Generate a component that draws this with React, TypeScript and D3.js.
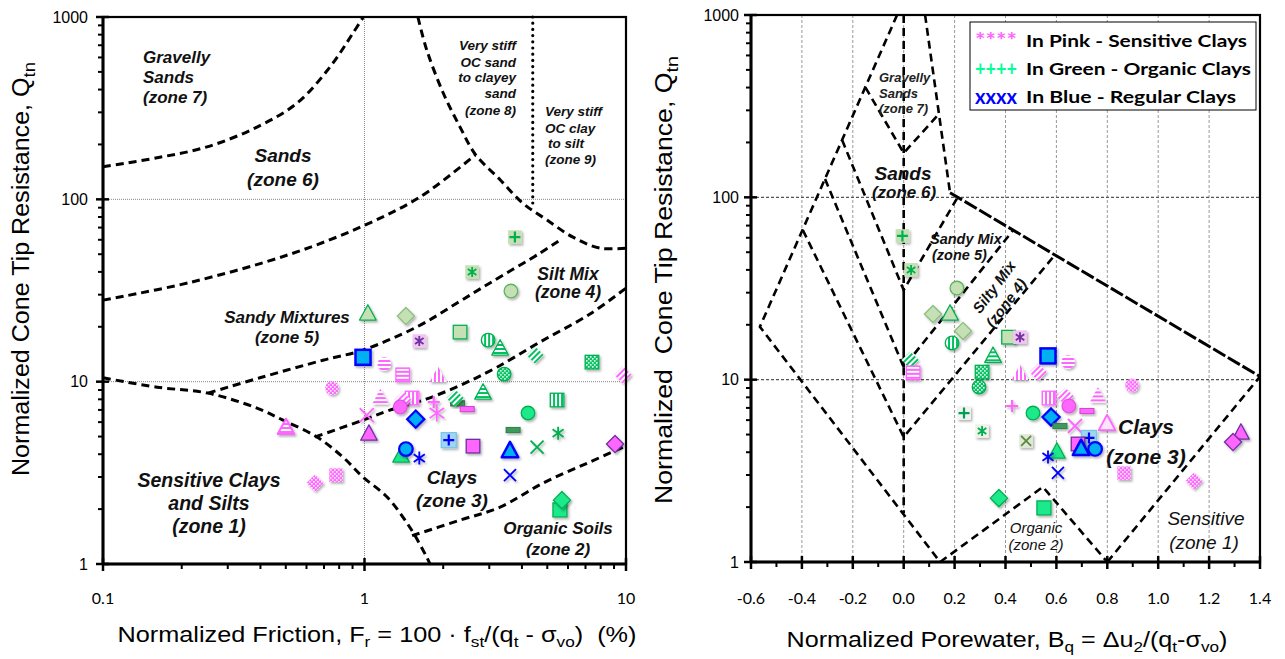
import React from 'react';
import * as d3 from 'd3';

// ---------- axis ticks ----------
const frTicks = [0.1, 1, 10];
const frTickLabels = ['0.1', '1', '10'];
const qTicks = [1, 10, 100, 1000];
const qTickLabels = ['1', '10', '100', '1000'];
const bqTicks = [-0.6, -0.4, -0.2, 0.0, 0.2, 0.4, 0.6, 0.8, 1.0, 1.2, 1.4];
const bqTickLabels = ['-0.6', '-0.4', '-0.2', '0.0', '0.2', '0.4', '0.6', '0.8', '1.0', '1.2', '1.4'];

// ---------- left chart zone boundaries (Fr %, Qtn) ----------
const zone7Line = [[0.1, 151], [0.161, 169], [0.25, 194], [0.388, 249], [0.552, 337], [0.738, 532], [0.904, 817], [0.99, 1000]];
const zone6Line = [[0.1, 28], [0.215, 35], [0.519, 50], [0.977, 71], [1.63, 103], [2.65, 175]];
const zone8Arc = [[1.6, 1000], [1.73, 659], [2.0, 383], [2.32, 249], [2.65, 177], [3.3, 128], [4.04, 95], [4.99, 77], [6.27, 62], [7.96, 54], [10, 54]];
const zone9Line = [[4.4, 1000], [4.4, 92]];
const zone5Line = [[0.252, 8.65], [0.398, 10.5], [0.693, 13.1], [0.986, 14.9], [1.59, 20], [2.26, 27], [3.02, 34.8], [4.69, 50.7], [5.6, 59.8]];
const zone1Line = [[0.1, 10.5], [0.161, 9.33], [0.252, 8.65], [0.388, 7.16], [0.488, 6.15], [0.658, 4.97], [0.828, 3.85], [0.986, 3.0], [1.22, 2.33], [1.49, 1.59], [1.73, 1.09], [1.78, 1]];
const zone4Line = [[0.647, 4.97], [0.986, 6.15], [1.25, 6.98], [1.73, 8.04], [2.38, 9.7], [3.21, 12], [4.69, 16.5], [7.28, 23.5], [10, 32.6]];
const zone2Line = [[1.52, 1.43], [2.32, 1.74], [3.3, 2.05], [4.82, 2.78], [7.1, 3.57], [10, 4.44]];

// ---------- right chart zone boundaries (Bq, Qtn) ----------
const outerLine = [[-0.026, 1000], [-0.565, 19.5], [0.143, 1]];
const gravelLine = [[-0.15, 400], [0, 175], [0.135, 283]];
const sandRightLine = [[0.084, 1000], [0.182, 106]];
const upperLine = [[0.182, 106], [1.4, 10.4]];
const sandyMixLine = [[-0.242, 206], [0, 31], [0.21, 99]];
const siltyMixLine = [[-0.309, 126], [0, 11.7], [0.43, 66]];
const clayLine = [[-0.396, 66], [0, 4.85], [0.587, 47]];
const organicLine = [[0.143, 1], [0.547, 2.58], [0.8, 1]];
const sensitiveLine = [[0.8, 1], [1.4, 10.4]];
const bqZeroUpper = [[0, 1000], [0, 31]];
const bqZeroSolid = [[0, 31], [0, 11.7]];
const bqZeroLower = [[0, 11.7], [0, 1.85]];

// ---------- samples: left chart (Fr, Qtn, marker) ----------
const leftPoints: [number, number, string][] = [
  [3.76, 62.1, 'lgPlusSq'], [2.58, 39.9, 'lgStarSq'], [3.63, 31.4, 'lgCircle'],
  [1.03, 23.8, 'lgTriangle'], [1.44, 22.9, 'lgDiamond'], [1.62, 16.7, 'purpleStarSq'],
  [2.32, 18.7, 'lgSquare'], [2.97, 16.9, 'greenVCircle'], [3.30, 15.3, 'greenHTriangle'],
  [0.987, 13.6, 'blueSquare'], [1.19, 12.5, 'pinkHCircle'], [1.40, 10.9, 'pinkHSquare'],
  [1.91, 10.9, 'pinkVTriangle'], [3.42, 11.0, 'greenDotCircle'], [4.49, 14.0, 'greenDiagDiamond'],
  [7.41, 12.8, 'greenCheckSq'], [9.74, 10.9, 'pinkDiagDiamond'], [0.751, 9.22, 'pinkDotCircle'],
  [0.501, 5.64, 'pinkWaveTriangle'], [1.15, 8.23, 'pinkHTriangle'], [1.52, 8.13, 'pinkVSquare'],
  [1.40, 7.93, 'pinkDiagDiamond'], [1.37, 7.26, 'pinkCircle'], [1.84, 7.73, 'pinkPlus'],
  [1.89, 6.73, 'pinkStar'], [2.27, 7.6, 'greenDash'], [2.22, 8.13, 'greenDiagDiamond'],
  [2.47, 7.07, 'pinkDash'], [2.84, 8.77, 'greenHTriangle'], [5.45, 7.93, 'greenVSquare'],
  [1.02, 6.56, 'pinkX'], [1.57, 6.23, 'blueDiamond'], [1.04, 5.22, 'pinkTriangle'],
  [4.22, 6.73, 'greenCircle'], [3.70, 5.43, 'greenDash'], [5.50, 5.22, 'greenStar'],
  [4.57, 4.38, 'greenX'], [2.10, 4.78, 'bluePlusSq'], [2.60, 4.43, 'pinkSquare'],
  [3.60, 4.21, 'blueTriangle'], [1.38, 3.96, 'greenTriangle'], [1.44, 4.27, 'blueCircle'],
  [1.62, 3.81, 'blueStar'], [3.60, 3.07, 'blueX'], [9.08, 4.55, 'pinkDiamond'],
  [5.59, 1.98, 'greenSquare'], [5.69, 2.24, 'greenDiamond'], [0.647, 2.78, 'pinkCheckDiamond'],
  [0.778, 3.07, 'pinkCheckSq'],
];

// ---------- samples: right chart (Bq, Qtn, marker) ----------
const rightPoints: [number, number, string][] = [
  [-0.005, 61.4, 'lgPlusSq'], [0.029, 40, 'lgStarSq'], [0.209, 31.8, 'lgCircle'],
  [0.115, 22.9, 'lgDiamond'], [0.182, 23.2, 'lgTriangle'], [0.233, 18.5, 'lgDiamond'],
  [0.190, 15.9, 'greenVCircle'], [0.412, 17.1, 'lgSquare'], [0.457, 17.1, 'purpleStarSq'],
  [0.025, 12.8, 'greenDiagDiamond'], [0.037, 10.9, 'pinkHSquare'], [0.351, 13.6, 'greenHTriangle'],
  [0.308, 11.0, 'greenCheckSq'], [0.567, 13.5, 'blueSquare'], [0.646, 12.5, 'pinkHCircle'],
  [0.457, 10.9, 'pinkVTriangle'], [0.528, 11.0, 'pinkDiagDiamond'], [0.296, 9.12, 'greenDotCircle'],
  [0.897, 9.3, 'pinkDotCircle'], [0.571, 7.93, 'pinkVSquare'], [0.634, 8.1, 'pinkDiagDiamond'],
  [0.649, 7.17, 'pinkCircle'], [0.763, 8.2, 'pinkHTriangle'], [0.426, 7.17, 'pinkPlus'],
  [0.237, 6.56, 'greenPlusW'], [0.508, 6.56, 'greenCircle'], [0.579, 6.24, 'blueDiamond'],
  [0.720, 6.73, 'pinkDash'], [0.673, 5.57, 'pinkX'], [0.799, 5.78, 'pinkOpenTriangle'],
  [0.614, 5.57, 'greenDash'], [0.308, 5.23, 'greenStarW'], [0.481, 4.61, 'lgXSq'],
  [0.728, 4.79, 'bluePlusSq'], [0.685, 4.44, 'pinkSquare'], [0.697, 4.22, 'blueTriangle'],
  [0.752, 4.17, 'blueCircle'], [0.602, 4.06, 'greenTriangle'], [0.567, 3.77, 'blueStar'],
  [0.606, 3.08, 'blueX'], [0.866, 3.07, 'pinkCheckSq'], [1.141, 2.78, 'pinkCheckDiamond'],
  [1.325, 5.16, 'pinkTriangle'], [1.294, 4.55, 'pinkDiamond'], [0.374, 2.24, 'greenDiamond'],
  [0.551, 1.98, 'greenSquare'],
];

// ---------- legend ----------
const legendSymbols = ['****', '++++', 'xxxx'];
const legendTexts = ['In Pink - Sensitive Clays', 'In Green - Organic Clays', 'In Blue - Regular Clays'];
const legendColors = ['#ff66ff', '#00ff99', '#0000ff'];

// ---------- marker styles ----------
const PINK = '#ff66ff';
const PURPLE = '#7030a0';
const LG = '#c5e0b4';
const LGS = '#5fb35f';
const GREEN = '#00b050';
const MINT = '#1ee88c';
const BLUE = '#0000ff';
const CYAN = '#00b0f0';

type MS = { shape: string; fill?: string; stroke?: string; sw?: number; size?: number; glyph?: string; gc?: string };
const STY: Record<string, MS> = {
  lgPlusSq: { shape: 'square', fill: LG, stroke: 'none', glyph: 'plus', gc: GREEN },
  lgStarSq: { shape: 'square', fill: LG, stroke: 'none', glyph: 'star', gc: GREEN },
  greenStarW: { shape: 'square', fill: '#eef3ea', stroke: 'none', glyph: 'star', gc: GREEN },
  greenPlusW: { shape: 'square', fill: '#f2f2f2', stroke: 'none', glyph: 'plus', gc: '#00a050' },
  lgXSq: { shape: 'square', fill: '#dfe8d6', stroke: 'none', glyph: 'x', gc: '#5a8a40' },
  lgCircle: { shape: 'circle', fill: LG, stroke: LGS },
  lgTriangle: { shape: 'triangle', fill: LG, stroke: GREEN },
  lgDiamond: { shape: 'diamond', fill: LG, stroke: '#8cbf80' },
  lgSquare: { shape: 'square', fill: LG, stroke: GREEN },
  blueSquare: { shape: 'square', fill: CYAN, stroke: BLUE, sw: 2.5, size: 7.5 },
  pinkHCircle: { shape: 'circle', fill: 'url(#hPink)', stroke: 'none' },
  purpleStarSq: { shape: 'square', fill: '#f2c4f2', stroke: 'none', glyph: 'star', gc: PURPLE },
  greenVCircle: { shape: 'circle', fill: 'url(#vGreen)', stroke: GREEN },
  greenHTriangle: { shape: 'triangle', fill: 'url(#hGreen)', stroke: GREEN },
  pinkHSquare: { shape: 'square', fill: 'url(#hPink)', stroke: PINK },
  pinkVTriangle: { shape: 'triangle', fill: 'url(#vPink)', stroke: 'none' },
  greenDotCircle: { shape: 'circle', fill: 'url(#ckGreen)', stroke: GREEN },
  greenDiagDiamond: { shape: 'diamond', fill: 'url(#dGreen)', stroke: 'none' },
  greenCheckSq: { shape: 'square', fill: 'url(#ckGreen)', stroke: GREEN },
  greenVSquare: { shape: 'square', fill: 'url(#vGreen)', stroke: GREEN },
  pinkDiagDiamond: { shape: 'diamond', fill: 'url(#dPink)', stroke: 'none' },
  pinkDotCircle: { shape: 'circle', fill: 'url(#ckPink)', stroke: 'none' },
  pinkHTriangle: { shape: 'triangle', fill: 'url(#hPink)', stroke: 'none' },
  pinkWaveTriangle: { shape: 'triangle', fill: 'url(#hPink)', stroke: PINK, sw: 2 },
  pinkVSquare: { shape: 'square', fill: 'url(#vPink)', stroke: PINK },
  pinkCircle: { shape: 'circle', fill: PINK, stroke: '#e055e0' },
  pinkPlus: { shape: 'plus', stroke: PINK, size: 6 },
  pinkStar: { shape: 'star', stroke: PINK, size: 8.5 },
  pinkDash: { shape: 'dash', fill: PINK, stroke: '#d040d0' },
  pinkX: { shape: 'x', stroke: PINK, size: 7 },
  blueDiamond: { shape: 'diamond', fill: CYAN, stroke: BLUE, sw: 2.2 },
  pinkTriangle: { shape: 'triangle', fill: PINK, stroke: PURPLE },
  greenCircle: { shape: 'circle', fill: MINT, stroke: GREEN },
  greenDash: { shape: 'dash', fill: '#3c9a5c', stroke: '#2f7d49' },
  bluePlusSq: { shape: 'square', fill: '#9fd6f2', stroke: '#7cc4ea', glyph: 'plus', gc: BLUE, size: 7.5 },
  pinkSquare: { shape: 'square', fill: PINK, stroke: PURPLE },
  blueTriangle: { shape: 'triangle', fill: CYAN, stroke: BLUE, sw: 2.5 },
  blueCircle: { shape: 'circle', fill: CYAN, stroke: BLUE, sw: 2.2 },
  greenTriangle: { shape: 'triangle', fill: MINT, stroke: GREEN },
  blueStar: { shape: 'star', stroke: BLUE, size: 6.5 },
  blueX: { shape: 'x', stroke: BLUE, size: 6 },
  greenX: { shape: 'x', stroke: GREEN, size: 6.5 },
  greenStar: { shape: 'star', stroke: GREEN, size: 6.5 },
  pinkDiamond: { shape: 'diamond', fill: PINK, stroke: PURPLE },
  greenDiamond: { shape: 'diamond', fill: MINT, stroke: GREEN },
  greenSquare: { shape: 'square', fill: MINT, stroke: GREEN, size: 7 },
  pinkCheckDiamond: { shape: 'diamond', fill: 'url(#ckPink)', stroke: 'none' },
  pinkCheckSq: { shape: 'square', fill: 'url(#ckPink)', stroke: 'none' },
  pinkOpenTriangle: { shape: 'triangle', fill: '#fde6fd', stroke: PINK, sw: 1.8 },
};

function Glyph({ g, c, s }: { g: string; c: string; s: number }) {
  if (g === 'plus') return <path d={`M${-s},0H${s}M0,${-s}V${s}`} stroke={c} strokeWidth={2.2} fill="none" />;
  if (g === 'x') return <path d={`M${-s},${-s}L${s},${s}M${-s},${s}L${s},${-s}`} stroke={c} strokeWidth={1.8} fill="none" />;
  return <path d={`M0,${-s}V${s}M${-s * 0.85},${-s * 0.6}L${s * 0.85},${s * 0.6}M${-s * 0.85},${s * 0.6}L${s * 0.85},${-s * 0.6}`} stroke={c} strokeWidth={1.8} fill="none" />;
}

function Marker({ s, cx, cy }: { s: string; cx: number; cy: number }) {
  const m = STY[s];
  const sw = m.sw ?? 1.3;
  let el: React.ReactNode = null;
  switch (m.shape) {
    case 'circle': {
      const r = m.size ?? 6.8;
      el = <circle r={r} fill={m.fill} stroke={m.stroke} strokeWidth={sw} />;
      break;
    }
    case 'square': {
      const h = m.size ?? 6.8;
      el = <rect x={-h} y={-h} width={2 * h} height={2 * h} fill={m.fill} stroke={m.stroke} strokeWidth={sw} />;
      break;
    }
    case 'triangle': {
      const h = m.size ?? 8.3;
      el = <path d={`M0,${-h}L${h},${h * 0.85}L${-h},${h * 0.85}Z`} fill={m.fill} stroke={m.stroke} strokeWidth={sw} strokeLinejoin="round" />;
      break;
    }
    case 'diamond': {
      const h = m.size ?? 8.6;
      el = <path d={`M0,${-h}L${h},0L0,${h}L${-h},0Z`} fill={m.fill} stroke={m.stroke} strokeWidth={sw} />;
      break;
    }
    case 'dash': {
      el = <rect x={-7} y={-2.6} width={14} height={5.2} fill={m.fill} stroke={m.stroke} strokeWidth={1} />;
      break;
    }
    case 'plus':
    case 'x':
    case 'star':
      el = <Glyph g={m.shape} c={m.stroke as string} s={m.size ?? 6} />;
      break;
  }
  return (
    <g transform={`translate(${cx},${cy})`} filter="url(#sh)">
      {el}
      {m.glyph ? <Glyph g={m.glyph} c={m.gc as string} s={m.glyph === 'plus' ? 5.5 : 5} /> : null}
    </g>
  );
}

function logMinor(lo: number, hi: number) {
  const out: number[] = [];
  for (let e = Math.log10(lo); e < Math.log10(hi) - 1e-9; e++) {
    const d = Math.pow(10, e);
    for (let k = 2; k <= 9; k++) out.push(d * k);
  }
  return out;
}

const SANS = '"Liberation Sans", Arial, sans-serif';
const CAL = 'Lato, "Liberation Sans", sans-serif';

export default function App() {
  const xL = d3.scaleLog().domain([0.1, 10]).range([103, 626]);
  const yL = d3.scaleLog().domain([1, 1000]).range([564, 17]);
  const xR = d3.scaleLinear().domain([-0.6, 1.4]).range([751, 1260]);
  const yR = d3.scaleLog().domain([1, 1000]).range([562, 15]);

  const lineL = d3.line<number[]>().x(d => xL(d[0])).y(d => yL(d[1])).curve(d3.curveCatmullRom.alpha(0.5));
  const lineR = d3.line<number[]>().x(d => xR(d[0])).y(d => yR(d[1]));

  const dash = { fill: 'none', stroke: '#000', strokeWidth: 3, strokeDasharray: '8,5' };
  const dashR = { fill: 'none', stroke: '#000', strokeWidth: 2.6, strokeDasharray: '8,5' };

  const qMinor = logMinor(1, 1000);
  const frMinor = logMinor(0.1, 10);
  const bqMinor = d3.range(-5, 14, 2).map(i => i / 10);

  const labL = { fontFamily: SANS, fontWeight: 700, fontStyle: 'italic' as const, fill: '#111' };
  const pre = { whiteSpace: 'pre' as const };

  return (
    <svg width={1285} height={659} style={{ position: 'absolute', left: 0, top: 0, background: '#fff' }}>
      <defs>
        <filter id="sh" x="-50%" y="-50%" width="200%" height="200%">
          <feDropShadow dx="1.5" dy="1.8" stdDeviation="1.2" floodColor="#000" floodOpacity="0.3" />
        </filter>
        <pattern id="hPink" width="4" height="4" patternUnits="userSpaceOnUse">
          <rect width="4" height="4" fill="#fff" /><rect width="4" height="2" fill={PINK} />
        </pattern>
        <pattern id="vPink" width="4" height="4" patternUnits="userSpaceOnUse">
          <rect width="4" height="4" fill="#fff" /><rect width="2" height="4" fill={PINK} />
        </pattern>
        <pattern id="dPink" width="4" height="4" patternUnits="userSpaceOnUse" patternTransform="rotate(45)">
          <rect width="4" height="4" fill="#fff" /><rect width="2" height="4" fill={PINK} />
        </pattern>
        <pattern id="ckPink" width="4" height="4" patternUnits="userSpaceOnUse">
          <rect width="4" height="4" fill={PINK} /><rect width="1.6" height="1.6" fill="#fff" /><rect x="2" y="2" width="1.6" height="1.6" fill="#fff" />
        </pattern>
        <pattern id="hGreen" width="4" height="4" patternUnits="userSpaceOnUse">
          <rect width="4" height="4" fill="#fff" /><rect width="4" height="2" fill="#00c060" />
        </pattern>
        <pattern id="vGreen" width="4" height="4" patternUnits="userSpaceOnUse">
          <rect width="4" height="4" fill="#fff" /><rect width="2" height="4" fill="#00c060" />
        </pattern>
        <pattern id="dGreen" width="4" height="4" patternUnits="userSpaceOnUse" patternTransform="rotate(45)">
          <rect width="4" height="4" fill="#fff" /><rect width="2" height="4" fill="#00c060" />
        </pattern>
        <pattern id="ckGreen" width="4" height="4" patternUnits="userSpaceOnUse">
          <rect width="4" height="4" fill="#00c060" /><rect width="1.6" height="1.6" fill="#fff" /><rect x="2" y="2" width="1.6" height="1.6" fill="#fff" />
        </pattern>
      </defs>

      {/* ================= LEFT CHART ================= */}
      <g>
        <line x1={xL(1)} x2={xL(1)} y1={yL(1000)} y2={yL(1)} stroke="#888" strokeWidth={1} strokeDasharray="1,1" />
        {[10, 100].map(v => (
          <line key={v} x1={xL(0.1)} x2={xL(10)} y1={yL(v)} y2={yL(v)} stroke="#888" strokeWidth={1} strokeDasharray="1,1" />
        ))}
        <path d={lineL(zone7Line) as string} {...dash} />
        <path d={lineL(zone6Line) as string} {...dash} />
        <path d={lineL(zone8Arc) as string} {...dash} />
        <path d={lineL(zone5Line) as string} {...dash} />
        <path d={lineL(zone1Line) as string} {...dash} />
        <path d={lineL(zone4Line) as string} {...dash} />
        <path d={lineL(zone2Line) as string} {...dash} />
        <path d={d3.line<number[]>().x(d => xL(d[0])).y(d => yL(d[1]))(zone9Line) as string} fill="none" stroke="#000" strokeWidth={3.2} strokeDasharray="0,6.2" strokeLinecap="round" />

        <g {...labL} fontSize={17}>
          <text x={143} y={63}>Gravelly</text>
          <text x={143} y={83}>Sands</text>
          <text x={143} y={103}>(zone 7)</text>
        </g>
        <g {...labL} fontSize={19} textAnchor="middle">
          <text x={283} y={162}>Sands</text>
          <text x={283} y={186}>(zone 6)</text>
        </g>
        <g {...labL} fontSize={13.5} textAnchor="end">
          <text x={516} y={50}>Very stiff</text>
          <text x={516} y={67}>OC sand</text>
          <text x={516} y={82}>to clayey</text>
          <text x={516} y={98}>sand</text>
          <text x={516} y={115}>(zone 8)</text>
        </g>
        <g {...labL} fontSize={13.5}>
          <text x={545} y={116}>Very stiff</text>
          <text x={545} y={133}>OC clay</text>
          <text x={548} y={148}>to silt</text>
          <text x={545} y={164}>(zone 9)</text>
        </g>
        <g {...labL} fontSize={17.5} textAnchor="middle">
          <text x={568} y={280}>Silt Mix</text>
          <text x={568} y={298}>(zone 4)</text>
        </g>
        <g {...labL} fontSize={17} textAnchor="middle">
          <text x={287} y={323}>Sandy Mixtures</text>
          <text x={287} y={343}>(zone 5)</text>
        </g>
        <g {...labL} fontSize={19.5} textAnchor="middle">
          <text x={209} y={487}>Sensitive Clays</text>
          <text x={209} y={510}>and Silts</text>
          <text x={209} y={533}>(zone 1)</text>
        </g>
        <g {...labL} fontSize={19} textAnchor="middle">
          <text x={452} y={484}>Clays</text>
          <text x={452} y={507}>(zone 3)</text>
        </g>
        <g {...labL} fontSize={17} textAnchor="middle">
          <text x={558} y={534}>Organic Soils</text>
          <text x={558} y={555}>(zone 2)</text>
        </g>

        {leftPoints.map((p, i) => <Marker key={i} s={p[2]} cx={xL(p[0])} cy={yL(p[1])} />)}

        <rect x={xL(0.1)} y={yL(1000)} width={xL(10) - xL(0.1)} height={yL(1) - yL(1000)} fill="none" stroke="#000" strokeWidth={2.2} />
        <line x1={xL(0.1)} x2={xL(0.1)} y1={yL(1000)} y2={yL(1)} stroke="#000" strokeWidth={3} />
        <line x1={xL(0.1)} x2={xL(10)} y1={yL(1)} y2={yL(1)} stroke="#000" strokeWidth={3} />
        {qTicks.map(v => <line key={'qt' + v} x1={xL(0.1) - 7} x2={xL(0.1) + 6} y1={yL(v)} y2={yL(v)} stroke="#000" strokeWidth={2.5} />)}
        {qMinor.map(v => <line key={'qm' + v} x1={xL(0.1) - 5} x2={xL(0.1)} y1={yL(v)} y2={yL(v)} stroke="#000" strokeWidth={2} />)}
        {frTicks.map(v => <line key={'ft' + v} x1={xL(v)} x2={xL(v)} y1={yL(1) - 6} y2={yL(1) + 7} stroke="#000" strokeWidth={2.5} />)}
        {frMinor.map(v => <line key={'fm' + v} x1={xL(v)} x2={xL(v)} y1={yL(1)} y2={yL(1) + 5} stroke="#000" strokeWidth={2} />)}
        {qTicks.map((v, i) => (
          <text key={'ql' + v} x={xL(0.1) - 15} y={yL(v)} dy="0.35em" textAnchor="end" fontFamily={SANS} fontSize={16}>{qTickLabels[i]}</text>
        ))}
        {frTicks.map((v, i) => (
          <text key={'fl' + v} x={xL(v)} y={604} textAnchor="middle" fontFamily={CAL} fontSize={16}>{frTickLabels[i]}</text>
        ))}
        <text transform="translate(29,269) rotate(-90)" textAnchor="middle" fontFamily={SANS} fontSize={23} textLength={414} lengthAdjust="spacingAndGlyphs">
          Normalized Cone Tip Resistance, Q<tspan dy="6" fontSize={17}>tn</tspan>
        </text>
        <text x={377} y={642} textAnchor="middle" fontFamily={SANS} fontSize={22} style={pre} textLength={519} lengthAdjust="spacingAndGlyphs">
          Normalized Friction, F<tspan dy="5" fontSize={15}>r</tspan><tspan dy="-5"> = 100 · f</tspan><tspan dy="5" fontSize={15}>st</tspan><tspan dy="-5">/(q</tspan><tspan dy="5" fontSize={15}>t</tspan><tspan dy="-5"> - σ</tspan><tspan dy="5" fontSize={15}>vo</tspan><tspan dy="-5">)  (%)</tspan>
        </text>
      </g>

      {/* ================= RIGHT CHART ================= */}
      <g>
        {bqTicks.slice(1, -1).map(v => (
          <line key={'bg' + v} x1={xR(v)} x2={xR(v)} y1={yR(1000)} y2={yR(1)} stroke="#999" strokeWidth={1} strokeDasharray="3,2" />
        ))}
        {[10, 100].map(v => (
          <line key={'rg' + v} x1={xR(-0.6)} x2={xR(1.4)} y1={yR(v)} y2={yR(v)} stroke="#555" strokeWidth={1.2} strokeDasharray="3,2" />
        ))}

        <path d={lineR(outerLine) as string} {...dashR} />
        <path d={lineR(gravelLine) as string} {...dashR} />
        <path d={lineR(sandRightLine) as string} {...dashR} />
        <path d={lineR(upperLine) as string} fill="none" stroke="#000" strokeWidth={3} strokeDasharray="14,3" />
        <path d={lineR(sandyMixLine) as string} {...dashR} />
        <path d={lineR(siltyMixLine) as string} {...dashR} />
        <path d={lineR(clayLine) as string} {...dashR} />
        <path d={lineR(organicLine) as string} {...dashR} />
        <path d={lineR(sensitiveLine) as string} {...dashR} />
        <path d={lineR(bqZeroUpper) as string} {...dashR} />
        <path d={lineR(bqZeroSolid) as string} fill="none" stroke="#000" strokeWidth={2.6} />
        <path d={lineR(bqZeroLower) as string} {...dashR} />

        <g {...labL} fontSize={13} fill="#222">
          <text x={879} y={82}>Gravelly</text>
          <text x={879} y={98}>Sands</text>
          <text x={879} y={113}>(zone 7)</text>
        </g>
        <g {...labL} fontSize={19} textAnchor="middle">
          <text x={903} y={180}>Sands</text>
        </g>
        <g {...labL} fontSize={17} textAnchor="middle">
          <text x={904} y={198}>(zone 6)</text>
        </g>
        <g {...labL} fontSize={14.5}>
          <text x={930} y={244}>Sandy Mix</text>
          <text x={932} y={260}>(zone 5)</text>
        </g>
        <g {...labL} fontSize={15} textAnchor="middle">
          <text transform="translate(994,287) rotate(-53)" dy="0.35em">Silty Mix</text>
          <text transform="translate(1006,303) rotate(-53)" dy="0.35em">(zone 4)</text>
        </g>
        <g {...labL} fontSize={21} textAnchor="middle">
          <text x={1146} y={434}>Clays</text>
          <text x={1146} y={464}>(zone 3)</text>
        </g>
        <g fontFamily={SANS} fontStyle="italic" fontSize={15} fill="#111" textAnchor="middle">
          <text x={1036} y={533}>Organic</text>
          <text x={1036} y={550}>(zone 2)</text>
        </g>
        <g fontFamily={SANS} fontStyle="italic" fontSize={19} fill="#111" textAnchor="middle">
          <text x={1206} y={525}>Sensitive</text>
          <text x={1204} y={549}>(zone 1)</text>
        </g>

        {rightPoints.map((p, i) => <Marker key={i} s={p[2]} cx={xR(p[0])} cy={yR(p[1])} />)}

        <rect x={xR(-0.6)} y={yR(1000)} width={xR(1.4) - xR(-0.6)} height={yR(1) - yR(1000)} fill="none" stroke="#000" strokeWidth={2.2} />
        <line x1={xR(-0.6)} x2={xR(-0.6)} y1={yR(1000)} y2={yR(1)} stroke="#000" strokeWidth={3} />
        <line x1={xR(-0.6)} x2={xR(1.4)} y1={yR(1)} y2={yR(1)} stroke="#000" strokeWidth={3} />
        {qTicks.map(v => <line key={'rq' + v} x1={xR(-0.6) - 7} x2={xR(-0.6) + 6} y1={yR(v)} y2={yR(v)} stroke="#000" strokeWidth={2.5} />)}
        {qMinor.map(v => <line key={'rqm' + v} x1={xR(-0.6) - 5} x2={xR(-0.6)} y1={yR(v)} y2={yR(v)} stroke="#000" strokeWidth={2} />)}
        {bqTicks.map(v => <line key={'bt' + v} x1={xR(v)} x2={xR(v)} y1={yR(1) - 6} y2={yR(1) + 7} stroke="#000" strokeWidth={2.5} />)}
        {bqMinor.map(v => <line key={'bm' + v} x1={xR(v)} x2={xR(v)} y1={yR(1)} y2={yR(1) + 5} stroke="#000" strokeWidth={2} />)}
        {qTicks.map((v, i) => (
          <text key={'rql' + v} x={xR(-0.6) - 12} y={yR(v)} dy="0.35em" textAnchor="end" fontFamily={SANS} fontSize={16}>{qTickLabels[i]}</text>
        ))}
        {bqTicks.map((v, i) => (
          <text key={'bl' + v} x={xR(v)} y={604} textAnchor="middle" fontFamily={CAL} fontSize={16}>{bqTickLabels[i]}</text>
        ))}
        <text transform="translate(672,280) rotate(-90)" textAnchor="middle" fontFamily={SANS} fontSize={23} style={pre} textLength={448} lengthAdjust="spacingAndGlyphs">
          Normalized  Cone Tip Resistance, Q<tspan dy="6" fontSize={17}>tn</tspan>
        </text>
        <text x={1007} y={647} textAnchor="middle" fontFamily={SANS} fontSize={22} textLength={441} lengthAdjust="spacingAndGlyphs">
          Normalized Porewater, B<tspan dy="5" fontSize={15}>q</tspan><tspan dy="-5"> = Δu</tspan><tspan dy="5" fontSize={15}>2</tspan><tspan dy="-5">/(q</tspan><tspan dy="5" fontSize={15}>t</tspan><tspan dy="-5">-σ</tspan><tspan dy="5" fontSize={15}>vo</tspan><tspan dy="-5">)</tspan>
        </text>

        <rect x={970} y={22} width={286} height={88} fill="#fff" stroke="#000" strokeWidth={1} />
        {legendTexts.map((t, i) => (
          <g key={t} fontFamily={CAL} fontWeight={700}>
            <text x={975} y={48 + i * 28} fontSize={20} fill={legendColors[i]} textLength={42} lengthAdjust="spacingAndGlyphs">{legendSymbols[i]}</text>
            <text x={1026} y={47 + i * 28} fontSize={17.5} fill="#000" textLength={[221, 225, 210][i]} lengthAdjust="spacingAndGlyphs">{t}</text>
          </g>
        ))}
      </g>
    </svg>
  );
}
